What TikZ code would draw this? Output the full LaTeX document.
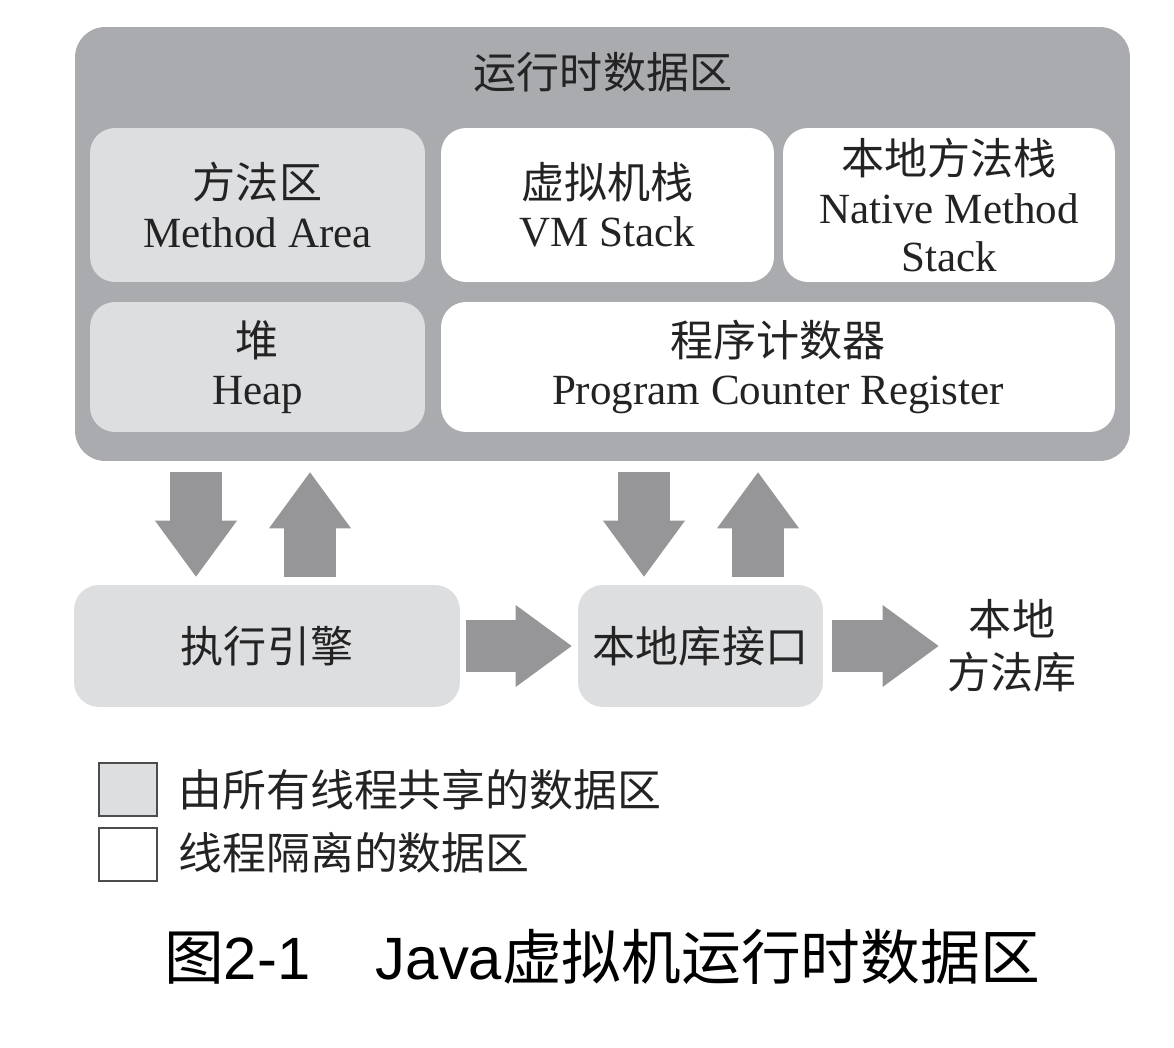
\documentclass[tikz,border=0pt]{standalone}
\usepackage{fontspec}
\setmainfont{Liberation Serif}
\setsansfont{Liberation Sans}
\newfontfamily\cjk{Noto Sans CJK SC}
\usetikzlibrary{arrows.meta}
\definecolor{areagray}{RGB}{170,171,174}
\definecolor{sharedgray}{RGB}{221,222,224}
\definecolor{flowgray}{RGB}{150,150,153}
\definecolor{inkgray}{RGB}{35,35,35}

\begin{document}
\begin{tikzpicture}[x=0.02cm, y=-0.02cm,
    every node/.style={text=inkgray, font=\fontsize{24.5}{27.5}\selectfont, align=center, inner sep=0pt},
    shared/.style 2 args={fill=sharedgray, rounded corners=0.5cm, minimum width=#1, minimum height=#2},
    private/.style 2 args={fill=white, rounded corners=0.5cm, minimum width=#1, minimum height=#2},
    legendbox/.style={draw=black!70, line width=0.04cm, minimum width=1.16cm, minimum height=1.06cm},
    flow/.style={draw=flowgray, line width=1.05cm, -{Triangle[width=1.64cm, length=1.12cm, line width=0pt]}}]
    \useasboundingbox (0,0) rectangle (1174,1048);

    % Runtime data area
    \node[fill=areagray, rounded corners=0.6cm, minimum width=21.1cm, minimum height=8.68cm] (runtime) at (602.5,244) {};
    \node (title) at (603,72) {\cjk 运行时数据区};

    \node[shared={6.7cm}{3.08cm}] (method) at (257.5,205) {{\cjk 方法区}\\Method Area};
    \node[private={6.66cm}{3.08cm}] (vmstack) at (607.5,205) {{\cjk 虚拟机栈}\\VM Stack};
    \node[private={6.64cm}{3.08cm}] (native) at (949,205) {{\cjk 本地方法栈}\\Native Method\\Stack};
    \node[shared={6.7cm}{2.6cm}] (heap) at (257.5,367) {{\cjk 堆}\\Heap};
    \node[private={13.48cm}{2.6cm}] (pc) at (778,367) {{\cjk 程序计数器}\\Program Counter Register};

    % Engine and native interface
    \node[shared={7.72cm}{2.44cm}] (exec) at (267,646) {\cjk 执行引擎};
    \node[shared={4.9cm}{2.44cm}] (jni) at (700.5,646) {\cjk 本地库接口};
    \node[font=\fontsize{24.5}{30}\selectfont] (natlib) at (1012,646) {\cjk 本地\\\cjk 方法库};

    % Arrows between the data area and the boxes below
    \coordinate (d1) at (196,0);
    \coordinate (u1) at (310,0);
    \coordinate (d2) at (644,0);
    \coordinate (u2) at (758,0);
    \draw[flow, shorten <=0.22cm, shorten >=0.16cm] (runtime.south -| d1) -- (exec.north -| d1);
    \draw[flow, shorten <=0.16cm, shorten >=0.22cm] (exec.north -| u1) -- (runtime.south -| u1);
    \draw[flow, shorten <=0.22cm, shorten >=0.16cm] (runtime.south -| d2) -- (jni.north -| d2);
    \draw[flow, shorten <=0.16cm, shorten >=0.22cm] (jni.north -| u2) -- (runtime.south -| u2);
    \draw[flow, shorten <=0.12cm, shorten >=0.12cm] (exec) -- (jni);
    \draw[flow, shorten <=0.18cm, shorten >=0.17cm] (jni) -- (natlib);

    % Legend
    \node[legendbox, fill=sharedgray] (legshared) at (128,789.5) {};
    \node[anchor=west, font=\fontsize{25}{30}\selectfont] (legsharedtext) at (178,790) {\cjk 由所有线程共享的数据区};
    \node[legendbox, fill=white] (legprivate) at (128,854.5) {};
    \node[anchor=west, font=\fontsize{25}{30}\selectfont] (legprivatetext) at (178,853) {\cjk 线程隔离的数据区};

    % Caption
    \node[text=black, font=\sffamily\fontsize{34}{40}\selectfont] (caption) at (602,957) {{\cjk 图}2-1\hspace{1.1em}Java{\cjk 虚拟机运行时数据区}};
\end{tikzpicture}
\end{document}
